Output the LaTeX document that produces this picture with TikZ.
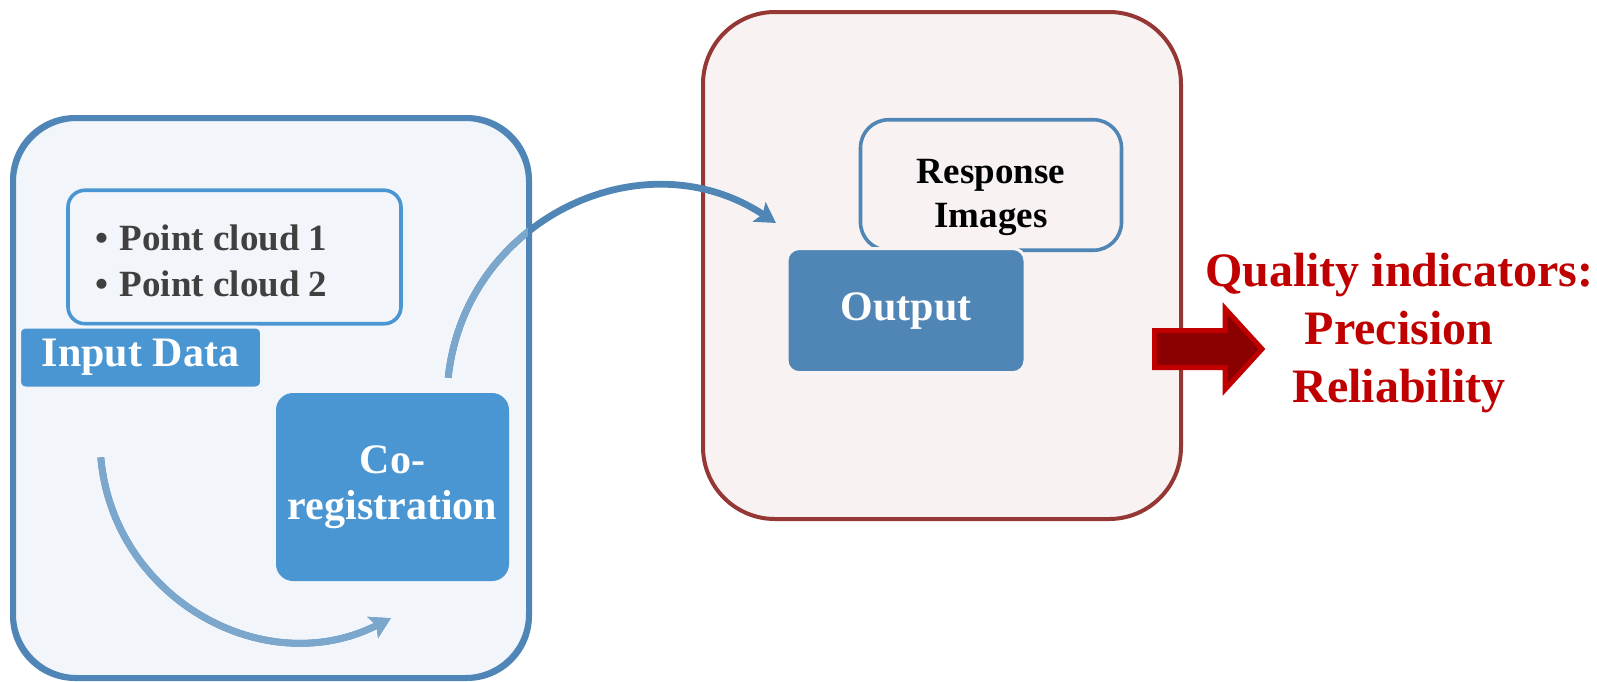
\documentclass[tikz,border=0pt]{standalone}
\usepackage{fontspec}
\setmainfont{Liberation Serif}
\usetikzlibrary{arrows.meta}
\definecolor{lbord}{HTML}{4F86B7}
\definecolor{lfill}{HTML}{F2F5FA}
\definecolor{bright}{HTML}{4A96D2}
\definecolor{steel}{HTML}{4F86B6}
\definecolor{lightsteel}{HTML}{7BA7CC}
\definecolor{rbord}{HTML}{953735}
\definecolor{rfill}{HTML}{F8F2F2}
\definecolor{qred}{HTML}{C00000}
\definecolor{dred}{HTML}{8B0000}
\definecolor{pgray}{HTML}{404040}
\tikzset{
  container/.style={rectangle, line width=2pt, inner sep=0pt},
  box/.style={rectangle, inner sep=0pt, font=\bfseries\fontsize{21}{23}\selectfont, text=white, align=center},
  flow/.style={line width=3.4pt, -{Stealth[length=10pt,width=11.5pt,inset=2pt]}},
}
\begin{document}
\begin{tikzpicture}[x=0.5pt,y=-0.5pt]
\fill[white] (0,0) rectangle (1597,681);
\useasboundingbox (0,0) rectangle (1597,681);

% containers
\node[container, draw=lbord, fill=lfill, rounded corners=31.5pt, minimum width=257pt, minimum height=279pt] (left) at (271,398) {};
\node[container, draw=rbord, fill=rfill, rounded corners=36pt, minimum width=239pt, minimum height=253.5pt] (right) at (942,265.5) {};

% connectors
\coordinate (a1s) at (100.8,457.4);
\coordinate (a1e) at (390.8,618.2);
\coordinate (a2s) at (448.2,377.7);
\coordinate (a2e) at (776,223);
\draw[flow, steel] (a1s) .. controls (113.2,598.6) and (264.5,682.6) .. (a1e);
\draw[flow, steel] (a2s) .. controls (464.8,219.6) and (642.6,134.8) .. (a2e);
\begin{scope}
  \clip[rounded corners=31.5pt] (left.south west) rectangle (left.north east);
  \draw[flow, lightsteel] (a1s) .. controls (113.2,598.6) and (264.5,682.6) .. (a1e);
  \draw[flow, lightsteel] (a2s) .. controls (464.8,219.6) and (642.6,134.8) .. (a2e);
\end{scope}
\draw[line width=2pt, lbord, rounded corners=31.5pt] (left.south west) rectangle (left.north east);

% left content
\node[rectangle, draw=bright, fill=lfill, line width=1.8pt, rounded corners=8.5pt, minimum width=166.5pt, minimum height=66.75pt] (pc) at (234.5,257) {};
\node[anchor=west, inner sep=0pt, align=left, text=pgray, font=\bfseries\fontsize{18.5}{23}\selectfont] (pctext) at (95.5,261) {•\hspace{5.5pt}Point cloud 1\\•\hspace{5.5pt}Point cloud 2};
\node[box, fill=bright, draw=lfill, line width=1.5pt, rounded corners=3pt, minimum width=121pt, minimum height=30.5pt] (input) at (140.5,357.5) {Input Data};
\node[box, fill=bright, rounded corners=8.5pt, minimum width=116.5pt, minimum height=94pt] (coreg) at (392.5,487) {Co-\\registration};

% right content
\node[rectangle, draw=steel, fill=rfill, line width=1.8pt, rounded corners=14pt, minimum width=130.5pt, minimum height=65.25pt] (resp) at (991,185) {};
\node[inner sep=0pt, align=center, font=\bfseries\fontsize{18.5}{22}\selectfont] (resptext) at (991,197) {Response\\Images};
\node[box, fill=steel, draw=rfill, line width=1.5pt, rounded corners=6pt, minimum width=119pt, minimum height=62pt] (output) at (906,310.6) {Output};

% big arrow and quality text
\draw[fill=dred, draw=qred, line width=2.5pt, miter limit=10] (1154.5,330.5) -- (1225,330.5) -- (1225,308.5) -- (1262,349) -- (1225,389.5) -- (1225,367.5) -- (1154.5,367.5) -- cycle;
\node[text=qred, inner sep=0pt, align=center, font=\bfseries\fontsize{24}{29}\selectfont] (qual) at (1399,333) {Quality indicators:\\Precision\\Reliability};
\end{tikzpicture}
\end{document}
